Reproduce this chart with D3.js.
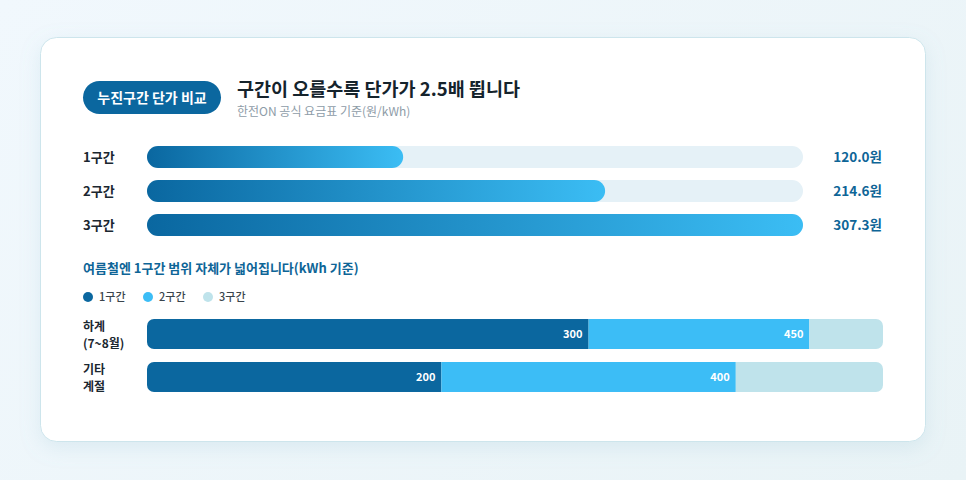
<!DOCTYPE html>
<html>
<head>
<meta charset="utf-8">
<script src="https://cdn.jsdelivr.net/npm/d3@7"></script>
<style>
  body { margin: 0; background: linear-gradient(135deg, #f1f8fd 0%, #e9f3f6 100%); }
  svg { display: block; font-family: "Noto Sans CJK KR", "Noto Sans", sans-serif; }
</style>
</head>
<body>
<svg id="chart" width="966" height="480"></svg>
<script>
const tiers = ['1구간', '2구간', '3구간'];
const unitPrices = [120.0, 214.6, 307.3];

const seasons = [['하계', '(7~8월)'], ['기타', '계절']];
const tier1Limit = [300, 200];
const tier2Limit = [450, 400];
const rangeMax = 500;

const tierColors = ['#0b679f', '#3cbdf6', '#bfe3eb'];

const svg = d3.select('#chart');

const defs = svg.append('defs');
let shadow = defs.append('filter').attr('id', 'shadow')
  .attr('x', '-10%').attr('y', '-10%').attr('width', '120%').attr('height', '130%');
shadow.append('feDropShadow')
  .attr('dx', 0).attr('dy', 6).attr('stdDeviation', 10)
  .attr('flood-color', '#7fb3c8').attr('flood-opacity', 0.18);

let grad = defs.append('linearGradient').attr('id', 'barGrad')
  .attr('x1', '0%').attr('x2', '100%').attr('y1', 0).attr('y2', 0);
grad.append('stop').attr('offset', '0%').attr('stop-color', '#0a67a0');
grad.append('stop').attr('offset', '100%').attr('stop-color', '#3bbdf4');

// card
svg.append('rect')
  .attr('x', 40.5).attr('y', 37.5).attr('width', 885).attr('height', 404)
  .attr('rx', 16)
  .attr('fill', '#fff').attr('stroke', '#cde5ec')
  .attr('filter', 'url(#shadow)');

// header
svg.append('rect')
  .attr('x', 83).attr('y', 81).attr('width', 138).attr('height', 33).attr('rx', 16.5)
  .attr('fill', '#0b679f');
svg.append('text')
  .attr('x', 152).attr('y', 102.5).attr('text-anchor', 'middle')
  .attr('fill', '#fff').attr('font-size', 14).attr('font-weight', 700)
  .text('누진구간 단가 비교');
svg.append('text')
  .attr('x', 237).attr('y', 96).attr('fill', '#15232c')
  .attr('font-size', 18.5).attr('font-weight', 700)
  .text('구간이 오를수록 단가가 2.5배 뜁니다');
svg.append('text')
  .attr('x', 237).attr('y', 116).attr('fill', '#8e9ca8')
  .attr('font-size', 12)
  .text('한전ON 공식 요금표 기준(원/kWh)');

// price bars
const x = d3.scaleLinear().domain([0, d3.max(unitPrices)]).range([147, 803]);
const y = d3.scaleBand().domain(tiers).range([140, 242]).paddingInner(0.353).paddingOuter(0.176);
const barH = y.bandwidth();

const rows = svg.append('g').selectAll('g').data(tiers).join('g')
  .attr('transform', (d) => `translate(0, ${y(d)})`);

rows.append('rect')
  .attr('x', x(0)).attr('width', x.range()[1] - x(0)).attr('height', barH)
  .attr('rx', barH / 2).attr('fill', '#e5f1f7');

rows.append('rect')
  .attr('x', x(0)).attr('width', (d, i) => x(unitPrices[i]) - x(0)).attr('height', barH)
  .attr('rx', barH / 2).attr('fill', 'url(#barGrad)');

rows.append('text')
  .attr('x', 83).attr('y', barH / 2 + 5)
  .attr('font-size', 13).attr('font-weight', 700).attr('fill', '#1b2730')
  .text((d) => d);

rows.append('text')
  .attr('x', 882).attr('y', barH / 2 + 5).attr('text-anchor', 'end')
  .attr('font-size', 13.5).attr('font-weight', 700).attr('fill', '#0e6597')
  .text((d, i) => `${unitPrices[i].toFixed(1)}원`);

// range section
svg.append('text')
  .attr('x', 83).attr('y', 273).attr('fill', '#0e6597')
  .attr('font-size', 13).attr('font-weight', 700)
  .text('여름철엔 1구간 범위 자체가 넓어집니다(kWh 기준)');

const legend = svg.append('g').selectAll('g').data(tiers).join('g')
  .attr('transform', (d, i) => `translate(${88 + i * 60}, 297)`);
legend.append('circle').attr('r', 5).attr('fill', (d, i) => tierColors[i]);
legend.append('text').attr('x', 11).attr('y', 4)
  .attr('font-size', 11).attr('fill', '#3a444c').attr('font-weight', 500)
  .text((d) => d);

const xr = d3.scaleLinear().domain([0, rangeMax]).range([147, 883]);
const yr = d3.scaleBand().domain(d3.range(seasons.length)).range([313, 398]).paddingInner(0.302).paddingOuter(0.14);
const rH = yr.bandwidth();

seasons.forEach((s, i) => {
  let clipId = `clip${i}`;
  defs.append('clipPath').attr('id', clipId)
    .append('rect')
    .attr('x', xr(0)).attr('y', yr(i)).attr('width', xr(rangeMax) - xr(0)).attr('height', rH)
    .attr('rx', 7);

  let stops = [0, tier1Limit[i], tier2Limit[i], rangeMax];
  let g = svg.append('g').attr('clip-path', `url(#${clipId})`);
  tiers.forEach((t, k) => {
    g.append('rect')
      .attr('x', xr(stops[k])).attr('y', yr(i))
      .attr('width', xr(stops[k + 1]) - xr(stops[k])).attr('height', rH)
      .attr('fill', tierColors[k]);
  });

  [tier1Limit[i], tier2Limit[i]].forEach((v) => {
    svg.append('text')
      .attr('x', xr(v) - 6).attr('y', yr(i) + rH / 2 + 4).attr('text-anchor', 'end')
      .attr('font-size', 11).attr('font-weight', 700).attr('fill', '#fff')
      .text(v);
  });

  let lbl = svg.append('text')
    .attr('font-size', 12).attr('font-weight', 700).attr('fill', '#1b2730');
  s.forEach((line, j) => {
    lbl.append('tspan').attr('x', 83).attr('y', yr(i) + 12 + j * 17).text(line);
  });
});
</script>
</body>
</html>
